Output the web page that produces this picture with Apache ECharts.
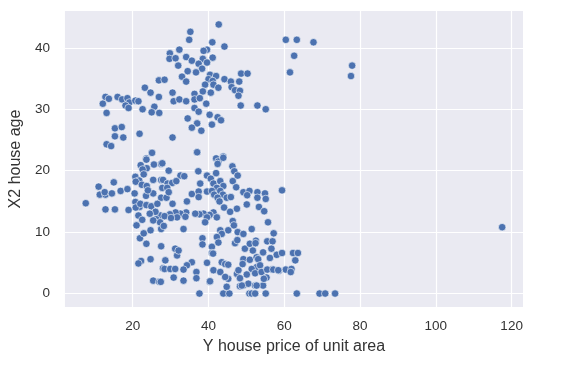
<!DOCTYPE html>
<html>
<head>
<meta charset="utf-8">
<script src="https://cdn.jsdelivr.net/npm/echarts@6/dist/echarts.min.js"></script>
<style>html,body{margin:0;padding:0;background:#fff}#c{width:566px;height:369px}</style>
</head>
<body>
<div id="c"></div>
<script>
// [Y house price of unit area, X2 house age]
const upperLeft = [
[26.9,34.7],[28.4,34.8],[23.2,33.5],[24.7,32.7],[26.9,32.0],[12.8,32.0],[13.7,31.7],[16.0,32.0],[17.2,31.6],[18.6,31.8],
[19.1,31.1],[20.7,31.4],[21.5,31.3],[12.1,30.9],[18.1,30.6],[18.9,30.2],[22.6,30.0],[25.7,30.4],[25.0,29.5],[27.0,29.4],
[13.1,29.4],[15.3,26.9],[17.1,27.1],[15.3,25.6],[17.5,25.4],[21.8,26.0],[13.1,24.3],[14.3,24.0],[25.0,22.9],[23.6,22.0]
];
const upperMiddle = [
[42.7,43.8],[35.2,42.6],[34.9,41.3],[41.0,40.9],[44.2,40.2],[32.3,39.7],[29.8,39.1],[39.6,39.7],[38.7,39.5],[34.1,38.5],
[29.7,38.2],[31.3,38.3],[35.6,37.9],[38.5,38.2],[41.1,38.4],[39.6,37.6],[37.4,37.4],[32.0,37.1],[38.3,36.6],[34.5,36.2],
[36.7,36.0],[33.0,35.3],[34.1,34.5],[40.4,35.6],[42.0,35.4],[40.0,34.9],[44.2,34.9],[48.6,35.8],[50.3,35.8],[45.9,34.5],
[48.1,34.5],[41.1,34.6],[41.3,34.0],[39.1,34.0],[42.6,33.5],[46.1,33.6],[47.0,33.1],[48.3,33.0],[40.6,32.7],[38.5,32.9],
[36.3,32.5],[30.5,32.7],[47.9,32.2],[30.8,31.3],[32.3,31.6],[34.1,31.3],[36.3,31.6],[37.7,31.8],[39.4,30.9],[36.3,30.2],
[37.4,29.6],[48.5,30.6],[52.9,30.6],[55.1,30.0],[34.5,28.5],[40.3,29.1],[42.4,28.7],[43.3,28.2],[40.9,27.5],[37.0,27.7],
[35.6,27.0],[38.1,26.5],[30.5,25.4],[37.0,23.0],[43.9,22.3],[42.0,22.0]
];
const upperRight = [
[60.4,41.3],[63.3,41.3],[67.7,40.9],[62.6,38.7],[61.5,36.0],[77.9,37.1],[77.6,35.4]
];
const lowerLeft = [
[7.6,14.7],[11.0,17.4],[15.0,18.1],[11.3,16.1],[12.8,16.1],[12.6,16.5],[14.5,16.3],[16.8,16.7],[18.6,17.0],[12.8,13.7],
[15.3,13.7],[18.9,13.6],[20.5,16.3],[21.0,11.1],[21.9,9.0],[22.9,9.8],[23.6,8.1],[24.7,10.3],[22.2,5.3],[21.5,4.9],
[24.7,5.6],[25.4,2.1],[27.0,1.9],[28.0,4.1],[27.5,10.5],[27.3,12.7],[21.5,12.7],[20.7,14.9],[21.8,14.1],[20.8,14.0],
[22.1,20.9],[23.7,20.4],[25.6,21.0],[22.6,20.2],[27.5,21.1],[20.7,19.0],[21.7,18.4],[20.8,18.2],[22.4,17.7],[23.7,17.5],
[25.4,18.5],[27.5,18.5],[23.5,15.9],[25.4,16.3],[27.5,15.6],[22.0,14.6],[23.6,14.4],[24.9,14.2],[26.5,14.6],[26.2,12.1],
[27.2,11.6],[25.4,11.9],[22.9,19.4],[24.0,16.8],[22.5,12.0],[26.0,13.3],[24.5,13.0],[23.6,21.8],[25.1,22.9]
];
const lowerMiddle = [
[42.6,21.5],[42.4,21.1],[46.3,20.7],[46.8,19.9],[29.5,20.0],[27.8,21.2],[37.3,19.9],[39.6,19.2],[40.6,18.7],[37.8,17.9],
[41.3,17.9],[42.0,19.6],[43.1,18.3],[43.9,17.5],[42.2,17.2],[47.7,19.2],[46.4,18.3],[47.3,17.3],[32.6,19.2],[33.6,19.1],
[28.0,18.5],[29.2,17.9],[30.4,18.0],[31.5,18.3],[27.8,17.2],[29.1,17.2],[28.9,15.6],[30.5,14.6],[29.5,16.5],[35.6,16.2],
[37.4,16.6],[37.4,15.7],[34.3,15.0],[39.6,16.6],[40.9,16.7],[41.5,16.1],[43.1,16.7],[43.8,16.1],[42.4,15.6],[44.8,15.6],
[42.9,15.0],[45.9,15.7],[49.2,16.5],[50.8,16.7],[50.2,16.0],[52.9,16.5],[52.9,15.6],[50.1,14.5],[44.1,14.0],[47.5,13.8],
[45.7,13.3],[41.3,13.2],[40.3,12.8],[38.7,13.0],[37.6,12.9],[36.5,13.0],[39.6,12.4],[42.2,12.4],[39.1,11.6],[34.1,13.2],
[32.6,13.0],[31.3,13.2],[29.8,12.9],[28.4,12.6],[31.7,12.4],[30.1,12.3],[33.9,12.5],[28.2,11.0],[33.4,10.5],[46.4,11.8],
[46.7,11.1],[51.4,10.5],[43.1,10.3],[45.2,10.3],[47.7,10.0],[49.2,9.7],[43.5,9.7],[42.2,9.2],[38.4,9.0],[38.4,8.0],
[40.9,7.6],[42.6,8.3],[40.9,6.6],[47.0,8.2],[47.6,8.7],[49.6,7.3],[50.9,8.1],[52.5,8.6],[51.7,7.0],[49.2,5.6],
[50.9,5.5],[52.7,5.9],[52.7,4.3],[51.4,4.0],[52.3,3.3],[47.5,3.2],[45.2,2.4],[49.2,1.3],[50.5,1.6],[48.3,1.2],
[50.8,0],[51.4,0],[44.8,0],[43.9,0],[45.5,0],[37.6,0],[44.8,1.1],[43.5,5.1],[44.4,4.8],[45.2,4.7],
[41.3,3.8],[43.1,3.5],[40.3,1.9],[35.6,5.1],[36.8,3.5],[36.8,2.5],[33.4,2.1],[30.8,2.6],[28.6,5.4],[28.4,4.0],
[29.9,4.0],[31.2,4.0],[31.7,6.2],[31.2,7.3],[32.1,7.0],[27.5,7.7],[27.4,1.9],[47.9,3.8],[50.1,3.1],[48.8,1.3],
[44.4,2.7],[39.6,5.0],[34.3,4.6],[33.4,3.9],[40.4,2.0],[48.3,2.5],[41.2,6.5],[37.0,23.0],[43.9,22.1],[49.0,4.8]
];
const lowerRight = [
[59.4,16.8],[54.9,16.3],[55.1,15.4],[53.3,14.1],[54.7,13.4],[55.7,11.6],[57.2,9.8],[52.4,8.2],[55.5,8.5],[56.9,8.5],
[54.4,6.7],[56.6,7.3],[58.0,6.3],[59.4,6.6],[56.2,5.8],[53.1,5.6],[53.6,4.6],[62.3,6.6],[63.6,6.6],[62.9,5.4],
[54.0,3.5],[56.6,3.9],[58.6,3.7],[60.4,3.9],[61.9,4.0],[61.7,3.5],[55.3,2.6],[54.4,1.3],[52.3,1.3],[55.1,0],
[52.3,0],[63.3,0],[69.3,0],[70.8,0],[73.4,0],[52.7,1.3],[54.6,2.4],[55.5,3.9],[57.1,3.9],[58.4,3.8],[117.5,10.8]
];
const xTicks = [20, 40, 60, 80, 100, 120];
const yTicks = [0, 10, 20, 30, 40];

const allPoints = [].concat(upperLeft, upperMiddle, upperRight, lowerLeft, lowerMiddle, lowerRight);

const chart = echarts.init(document.getElementById('c'), null, {renderer: 'canvas'});
const font = 'Liberation Sans, Arial, sans-serif';
chart.setOption({
  animation: false,
  backgroundColor: '#ffffff',
  grid: {left: 64, right: 43, top: 11, bottom: 62, show: true, backgroundColor: '#eaeaf2', borderWidth: 0},
  xAxis: {
    type: 'value', min: 2.1, max: 123.0,
    name: 'Y house price of unit area', nameLocation: 'middle', nameGap: 32,
    nameTextStyle: {fontFamily: font, fontSize: 16, color: '#333333'},
    axisLine: {show: false}, axisTick: {show: false, customValues: xTicks},
    axisLabel: {customValues: xTicks, fontFamily: font, fontSize: 13.5, color: '#333333', margin: 12},
    splitLine: {show: true, lineStyle: {color: '#ffffff', width: 1.2}}
  },
  yAxis: {
    type: 'value', min: -2.19, max: 45.99,
    name: 'X2 house age', nameLocation: 'middle', nameGap: 36,
    nameTextStyle: {fontFamily: font, fontSize: 16, color: '#333333'},
    axisLine: {show: false}, axisTick: {show: false, customValues: yTicks},
    axisLabel: {customValues: yTicks, fontFamily: font, fontSize: 13.5, color: '#333333', margin: 15},
    splitLine: {show: true, lineStyle: {color: '#ffffff', width: 1.2}}
  },
  series: [{
    type: 'scatter',
    data: allPoints,
    symbolSize: 7.5,
    itemStyle: {color: '#4c72b0', borderColor: '#ffffff', borderWidth: 0.6, opacity: 1}
  }]
});
</script>
</body>
</html>
